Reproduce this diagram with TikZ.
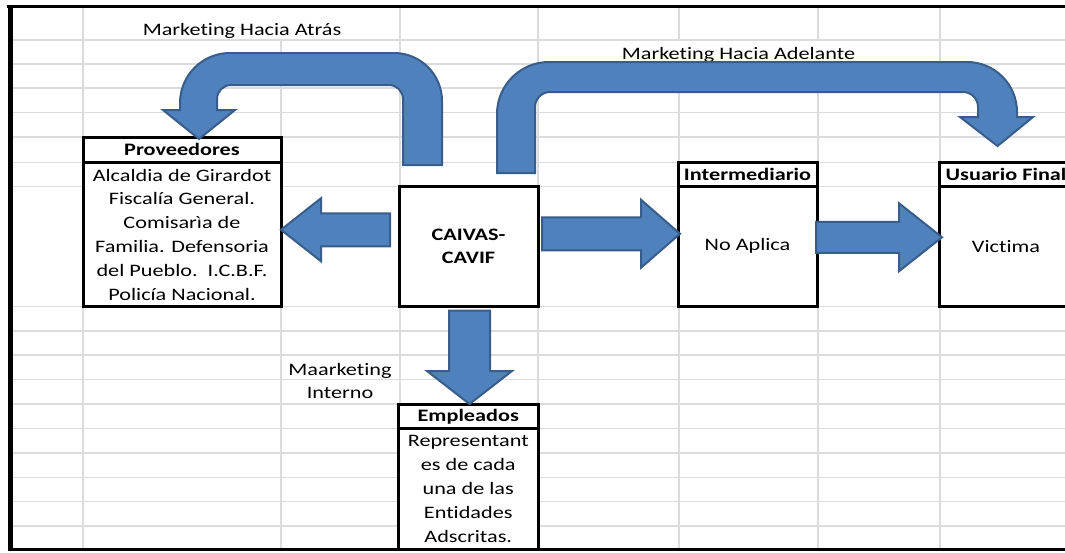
\documentclass[tikz,border=0pt]{standalone}
\usepackage{fontspec}
\setmainfont{Carlito}[FakeStretch=1.27, RawFeature={-liga;-clig;-dlig;-rlig}]
\usetikzlibrary{positioning,calc}

\definecolor{gridgray}{RGB}{218,220,221}
\definecolor{arrowfill}{RGB}{79,129,189}
\definecolor{arrowline}{RGB}{56,93,138}

\tikzset{
	cell/.style={draw=black, line width=3pt, fill=white, inner sep=0pt, outer sep=0pt, align=center},
	head/.style={cell, font=\fontsize{17.5}{23.5}\selectfont\bfseries},
	gridline/.style={gridgray, line width=1.2pt},
	blockarrow/.style={fill=arrowfill, draw=arrowline, line width=2pt, line join=miter}
}

\newcommand{\harrow}[5]{\draw[blockarrow] let \p1=(#1), \p2=(#2), \n1={ifthenelse(\x2>\x1,1,-1)} in
	(\x1,{\y1+#3}) -- ({\x2-\n1*#5},{\y1+#3}) -- ({\x2-\n1*#5},{\y1+#4}) -- (\x2,\y1)
	-- ({\x2-\n1*#5},{\y1-#4}) -- ({\x2-\n1*#5},{\y1-#3}) -- (\x1,{\y1-#3}) -- cycle;}
\newcommand{\varrow}[5]{\draw[blockarrow] let \p1=(#1), \p2=(#2), \n1={ifthenelse(\y2>\y1,1,-1)} in
	({\x1+#3},\y1) -- ({\x1+#3},{\y2-\n1*#5}) -- ({\x1+#4},{\y2-\n1*#5}) -- (\x1,\y2)
	-- ({\x1-#4},{\y2-\n1*#5}) -- ({\x1-#3},{\y2-\n1*#5}) -- ({\x1-#3},\y1) -- cycle;}

\begin{document}
\begin{tikzpicture}[x=1pt, y=-1pt, font=\fontsize{17.5}{23.8}\selectfont]
	\useasboundingbox (0,0) rectangle (1065,552);
	\clip (0,0) rectangle (1065,552);

	\foreach \y in {40,64,88,112.5,137,162.5,186.5,306.5,331,355,379.5,404,428.5,453,477.5,501.5,526} {\draw[gridline] (10,\y) -- (1065,\y);}
	\foreach \x/\ya/\yb in {83/8/549, 281/40/549, 400/8/549, 538/8/549, 679/8/40, 679/64/549, 818/8/40, 818/64/549, 940/8/549} {\draw[gridline] (\x,\ya) -- (\x,\yb);}

	\node[anchor=base] (atras) at (242,35.3) {Marketing Hacia Atrás};
	\node[anchor=base] (adelante) at (738.5,59.3) {Marketing Hacia Adelante};
	\node[align=center] (interno) at (340,381) {Maarketing\\Interno};

	\node[head, minimum width=198pt, minimum height=25.5pt, anchor=north west] (provh) at (83,137) {Proveedores};
	\node[cell, minimum width=198pt, minimum height=144pt, below=0pt of provh] (prov) {Alcaldia de Girardot\\Fiscalía General.\\Comisarìa de\\Familia. Defensoria\\del Pueblo.\ \ I.C.B.F.\\Policía Nacional.};

	\node[head, minimum width=139pt, minimum height=120.5pt, anchor=north west] (caivas) at (399,186) {CAIVAS-\\CAVIF};

	\node[head, minimum width=139pt, minimum height=23.5pt, anchor=north west] (interh) at (678,162.5) {Intermediario};
	\node[cell, minimum width=139pt, minimum height=120.5pt, below=0pt of interh] (inter) {\raisebox{-3pt}{No Aplica}};

	\node[head, minimum width=134pt, minimum height=23.5pt, anchor=north west] (usuh) at (939,162.5) {Usuario Final};
	\node[cell, minimum width=134pt, minimum height=120.5pt, below=0pt of usuh] (usu) {\raisebox{-1pt}{Victima}};

	\node[head, minimum width=139.5pt, minimum height=24.5pt, anchor=north west] (empleh) at (398.5,404) {Empleados};
	\node[cell, minimum width=139.5pt, minimum height=121pt, below=0pt of empleh] (emple) {Representant\\es de cada\\una de las\\Entidades\\Adscritas.};

	\harrow{$(caivas.west)+(-9,-16.5)$}{prov.east}{16.5}{31.5}{40}
	\harrow{$(caivas.east)+(4,-12.5)$}{$(inter.west)+(2,0)$}{16.5}{34}{39}
	\harrow{$(inter.east)+(-1,-9)$}{$(usu.west)+(3,0)$}{15.5}{34}{43}
	\varrow{$(caivas.south)+(1,4)$}{empleh.north}{20.5}{42.5}{33}

	\draw[blockarrow] (403,165) -- (442,165) -- (442,101) arc[start angle=0,end angle=-90,radius=48] -- (230,53) arc[start angle=-90,end angle=-180,radius=50] -- (180,110) -- (163,110) -- (199,139) -- (235,110) -- (217,110) -- (217,99) arc[start angle=180,end angle=270,radius=14] -- (389,85) arc[start angle=270,end angle=360,radius=14] -- cycle;
	\draw[blockarrow] (535,173) -- (497,173) -- (497,114) arc[start angle=180,end angle=270,radius=52] -- (967,62) arc[start angle=-90,end angle=0,radius=50] -- (1017,117) -- (1033,117) -- (997.5,146) -- (960,117) -- (978,117) -- (978,107) arc[start angle=0,end angle=-90,radius=15] -- (550,92) arc[start angle=270,end angle=180,radius=15] -- cycle;

	\draw[line width=3pt] (7,6.5) -- (1065,6.5);
	\draw[line width=5pt] (10,5) -- (10,551);
	\draw[line width=3.5pt] (7.5,549.5) -- (1065,549.5);
\end{tikzpicture}
\end{document}
